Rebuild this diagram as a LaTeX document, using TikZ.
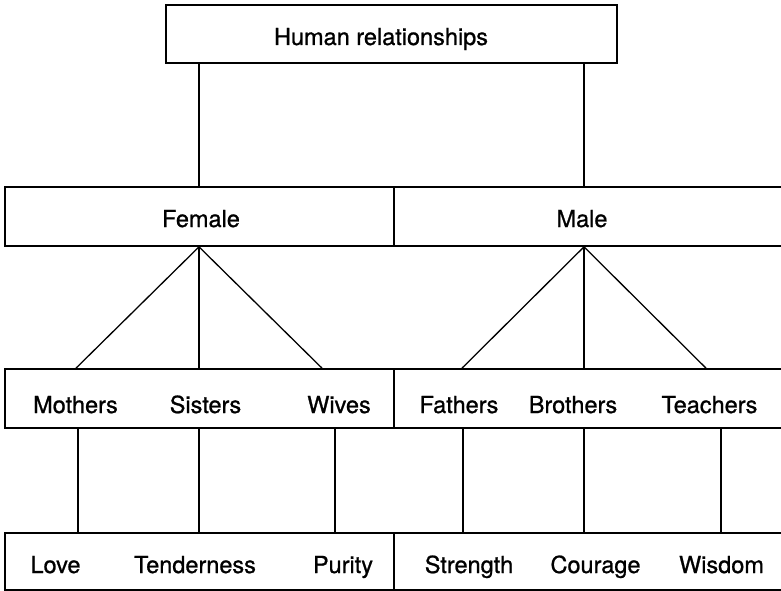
\documentclass[tikz,border=0pt]{standalone}
\usepackage{fontspec}
\setmainfont{TeX Gyre Heros}
\newfontfamily\lblfont[FakeBold=0.9]{TeX Gyre Heros}
\begin{document}
\begin{tikzpicture}[x=1pt,y=-1pt]
\tikzset{
  box/.style={draw=black, line width=1.7pt, rectangle, inner sep=0pt},
  lbl/.style={anchor=base, inner sep=0pt, font=\lblfont\fontsize{23.5}{28}\selectfont},
  con/.style={draw=black, line width=1.3pt},
}
\clip (0,0) rectangle (781,591);
\fill[white] (0,0) rectangle (781,591);
% boxes
\node[box, minimum width=451pt, minimum height=58pt] (top) at (391.5,34) {};
\node[box, minimum width=389pt, minimum height=59pt] (F2) at (199.5,216.5) {};
\node[box, minimum width=406pt, minimum height=59pt] (M2) at (597,216.5) {};
\node[box, minimum width=389pt, minimum height=59pt] (F3) at (199.5,398.5) {};
\node[box, minimum width=406pt, minimum height=59pt] (M3) at (597,398.5) {};
\node[box, minimum width=389pt, minimum height=57pt] (F4) at (199.5,561.5) {};
\node[box, minimum width=406pt, minimum height=57pt] (M4) at (597,561.5) {};
% labels
\node[lbl] (hr) at (381,45) {Human relationships};
\node[lbl] (fe) at (201,227) {Female};
\node[lbl] (ma) at (582,227) {Male};
\node[lbl] (mo) at (75.5,413) {Mothers};
\node[lbl] (si) at (205.5,413) {Sisters};
\node[lbl] (wi) at (339,413) {Wives};
\node[lbl] (fa) at (459,413) {Fathers};
\node[lbl] (br) at (573,413) {Brothers};
\node[lbl] (te) at (709.5,413) {Teachers};
\node[lbl] (lo) at (55.5,573) {Love};
\node[lbl] (tn) at (195,573) {Tenderness};
\node[lbl] (pu) at (343,573) {Purity};
\node[lbl] (st) at (469,573) {Strength};
\node[lbl] (co) at (595.5,573) {Courage};
\node[lbl] (wd) at (721.5,573) {Wisdom};
% junction x positions
\coordinate (cF) at (199,0);
\coordinate (cM) at (584,0);
\coordinate (j1) at (76,0);
\coordinate (j3) at (322,0);
\coordinate (j4) at (462,0);
\coordinate (j6) at (706,0);
\coordinate (k1) at (78,0);
\coordinate (k2) at (199,0);
\coordinate (k3) at (335,0);
\coordinate (k4) at (463,0);
\coordinate (k5) at (584,0);
\coordinate (k6) at (721,0);
% connectors
\draw[con] (top.south -| cF) -- (F2.north -| cF);
\draw[con] (top.south -| cM) -- (M2.north -| cM);
\draw[con] (F2.south -| cF) -- (F3.north -| j1);
\draw[con] (F2.south -| cF) -- (F3.north -| cF);
\draw[con] (F2.south -| cF) -- (F3.north -| j3);
\draw[con] (M2.south -| cM) -- (M3.north -| j4);
\draw[con] (M2.south -| cM) -- (M3.north -| cM);
\draw[con] (M2.south -| cM) -- (M3.north -| j6);
\draw[con] (F3.south -| k1) -- (F4.north -| k1);
\draw[con] (F3.south -| k2) -- (F4.north -| k2);
\draw[con] (F3.south -| k3) -- (F4.north -| k3);
\draw[con] (M3.south -| k4) -- (M4.north -| k4);
\draw[con] (M3.south -| k5) -- (M4.north -| k5);
\draw[con] (M3.south -| k6) -- (M4.north -| k6);
\end{tikzpicture}
\end{document}
